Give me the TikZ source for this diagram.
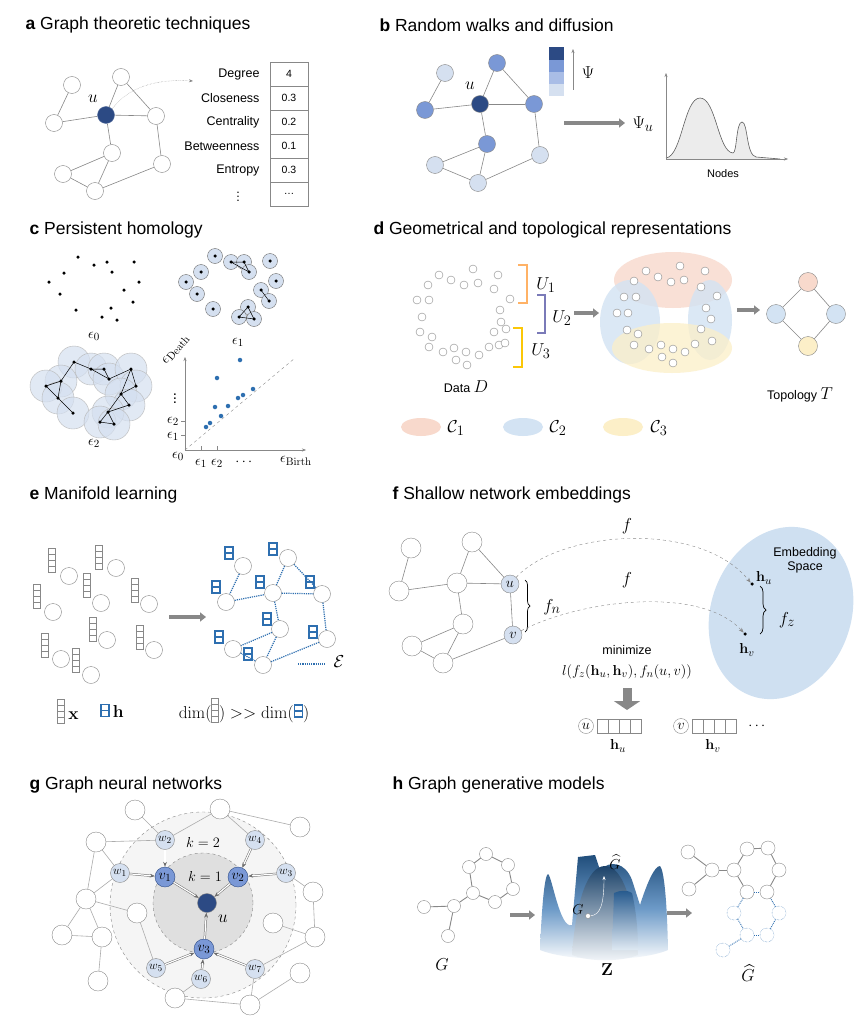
\documentclass[tikz,border=0pt]{standalone}
\usepackage[no-math]{fontspec}
\setmainfont{Liberation Sans}
\usepackage{amsmath,amssymb}
\usetikzlibrary{arrows.meta,decorations.pathreplacing,shapes.geometric,calc}
\definecolor{dkb}{HTML}{2C4A84}
\definecolor{mdb}{HTML}{7A98D6}
\definecolor{lgb}{HTML}{D5E0F0}
\definecolor{ltb}{HTML}{A9BDE6}
\definecolor{eb}{HTML}{2E6FB0}
\definecolor{gr}{HTML}{888888}
\definecolor{corg}{HTML}{F8D9CC}
\definecolor{cblu}{HTML}{D3E3F3}
\definecolor{cyel}{HTML}{FCEFC8}
\definecolor{embsp}{HTML}{CFE0F1}
\tikzset{
 every node/.append style={font=\fontsize{12.5}{14}\selectfont},
 ttl/.style={anchor=west,font=\fontsize{17.5}{20}\selectfont},
 ml/.style={font=\fontsize{19}{21}\selectfont},
 sl/.style={font=\fontsize{15}{17}\selectfont},
 wn/.style={circle,draw=gr,fill=white,minimum size=17pt,inner sep=0pt},
 sn/.style={circle,draw=gr,fill=white,minimum size=8pt,inner sep=0pt},
 edg/.style={draw=gr,line width=0.6pt},
 gar/.style={-{Triangle[length=6pt,width=9pt]},line width=4pt,draw=gr},
 cell/.style={draw=gr,minimum width=38pt,minimum height=24pt,inner sep=0pt,font=\fontsize{10.5}{12}\selectfont},
 tlab/.style={anchor=east,font=\fontsize{12.5}{14}\selectfont},
 dt/.style={circle,fill=black,minimum size=3.5pt,inner sep=0pt},
 bd/.style={circle,fill=eb,minimum size=4.5pt,inner sep=0pt},
}
\newcommand{\xstack}[2]{\foreach \k in {0,1,2,3}{\draw[gr,line width=0.6pt] (#1-3.5,#2+\k*6) rectangle (#1+3.5,#2+\k*6+6);}}
\newcommand{\hstack}[2]{\foreach \k in {0,1}{\draw[eb,line width=1.3pt] (#1-4,#2+\k*6) rectangle (#1+4,#2+\k*6+6);}}
\newcommand{\xmini}{\tikz[x=1pt,y=1pt,baseline=4pt]{\foreach \k in {0,1,2,3}{\draw[gr,line width=0.6pt] (0,\k*6) rectangle (7,\k*6+6);}}}
\newcommand{\hmini}{\tikz[x=1pt,y=1pt,baseline=-1pt]{\foreach \k in {0,1}{\draw[eb,line width=1.3pt] (0,\k*6) rectangle (8,\k*6+6);}}}
\begin{document}
\begin{tikzpicture}[x=1pt,y=-1pt]
\useasboundingbox[fill=white] (0,0) rectangle (867,1022);
% ---------- a
\node[ttl] (ta) at (22,25) {\textbf{a} Graph theoretic techniques};
\node[wn] (a1) at (72,85) {};
\node[wn] (a2) at (121,77) {};
\node[wn,fill=dkb,draw=dkb!80] (au) at (106,115) {};
\node[wn] (a3) at (54,123) {};
\node[wn] (a4) at (156,116) {};
\node[wn] (a5) at (112,153) {};
\node[wn] (a6) at (162,164) {};
\node[wn] (a7) at (63,174) {};
\node[wn] (a8) at (95,191) {};
\foreach \p/\q in {a1/a3,a3/au,au/a4,au/a2,a2/a4,au/a5,a5/a7,a5/a8,a7/a8,a4/a6,a6/a8}{\draw[edg] (\p)--(\q);}
\node[ml] (aul) at (93,99) {$u$};
\coordinate (atab) at (193,81);
\draw[gr,densely dotted,-{Stealth[length=4pt]}] (au.north east) .. controls (130,85) and (160,79) .. (atab);
\foreach \i/\l/\v in {0/Degree/4,1/Closeness/0.3,2/Centrality/0.2,3/Betweenness/0.1,4/Entropy/0.3}{
  \node[cell] (ac\i) at (289,74+24*\i) {\v};
  \node[tlab] (al\i) at (263,74+24*\i) {\l};}
\node[cell] (ac5) at (289,194) {\dots};
\node (avd) at (238,194) {$\vdots$};
% ---------- b
\node[ttl] (tb) at (376,25) {\textbf{b} Random walks and diffusion};
\node[wn,fill=lgb] (b1) at (445,73) {};
\node[wn,fill=mdb] (b2) at (497,63) {};
\node[wn,fill=dkb] (bu) at (480,104) {};
\node[wn,fill=mdb] (b3) at (425,110) {};
\node[wn,fill=mdb] (b4) at (534,104) {};
\node[wn,fill=mdb] (b5) at (487,144) {};
\node[wn,fill=lgb] (b6) at (435,165) {};
\node[wn,fill=lgb] (b7) at (478,183) {};
\node[wn,fill=lgb] (b8) at (540,155) {};
\foreach \p/\q in {b1/b3,b3/bu,bu/b4,bu/b2,b2/b4,bu/b5,b5/b6,b5/b7,b6/b7,b4/b8,b8/b7}{\draw[edg] (\p)--(\q);}
\node[ml] (bul) at (470,86) {$u$};
\fill[dkb] (549,47) rectangle (564,60);
\fill[mdb] (549,60) rectangle (564,72);
\fill[ltb] (549,72) rectangle (564,84);
\fill[lgb] (549,84) rectangle (564,96);
\coordinate (bp0) at (573,90); \coordinate (bp1) at (573,49);
\draw[gr,-{Stealth[length=4pt]}] (bp0)--(bp1);
\node[ml] (bpsi) at (588,73) {$\Psi$};
\coordinate (ba0) at (564,123); \coordinate (ba1) at (625,123);
\draw[gar] (ba0)--(ba1);
\node[ml] (bpsu) at (643,124) {$\Psi_u$};
\fill[gray!15] (666,158) .. controls (682,156) and (684,98) .. (700,98) .. controls (716,98) and (718,152) .. (733,153) .. controls (737,153) and (736,122) .. (742,122) .. controls (748,122) and (746,155) .. (756,157) -- (780,159) -- (666,159) -- cycle;
\draw[gr!70!black,line width=0.6pt] (666,158) .. controls (682,156) and (684,98) .. (700,98) .. controls (716,98) and (718,152) .. (733,153) .. controls (737,153) and (736,122) .. (742,122) .. controls (748,122) and (746,155) .. (756,157) -- (780,159);
\coordinate (bo) at (666,159); \coordinate (by) at (666,73); \coordinate (bx) at (788,159);
\draw[gr,-{Stealth[length=4pt]}] (bo)--(by);
\draw[gr,-{Stealth[length=4pt]}] (bo)--(bx);
\node[font=\fontsize{11}{13}\selectfont] (bnodes) at (723,174) {Nodes};
% ---------- c
\node[ttl] (tc) at (26,230) {\textbf{c} Persistent homology};
\foreach \x/\y in {78/257,94/265,107/262,134/262,64/273,112/272,49/282,139/282,60/294,124/290,133/302,76/310,111/308,102/317,117/320}{\node[dt] at (\x,\y) {};}
\node[sl] (ce0) at (94,336) {$\epsilon_0$};
\foreach \x/\y in {215/256,201/272,186/282,197/294,231/262,244/262,249/272,270/261,276/281,261/290,269/301,213/309,248/307,239/317,254/319}{\draw[gr!80!black,fill=lgb] (\x,\y) circle[radius=7.5pt]; \node[dt] at (\x,\y) {};}
\draw[line width=0.5pt] (231,262)--(244,262)--(249,272)--cycle (261,290)--(269,301) (248,307)--(239,317)--(254,319)--cycle;
\node[sl] (ce1) at (238,342) {$\epsilon_1$};
\foreach \x/\y in {74/362,61/381,46/386,58/398,73/413,91/369,104/369,109/379,131/369,136/386,121/394,129/405,108/412,100/422,114/424}{\draw[gr!60,fill=lgb,fill opacity=0.7] (\x,\y) circle[radius=16pt];}
\foreach \x/\y in {74/362,61/381,46/386,58/398,73/413,91/369,104/369,109/379,131/369,136/386,121/394,129/405,108/412,100/422,114/424}{\node[dt] at (\x,\y) {};}
\draw[line width=0.5pt] (46,386)--(61,381)--(74,362)--(91,369)--(104,369)--(109,379)--(131,369)--(136,386)--(121,394)--(129,405)--(108,412)--(100,422)--(114,424)--(108,412) (46,386)--(58,398)--(73,413) (61,381)--(58,398) (91,369)--(109,379) (121,394)--(108,412) (131,369)--(121,394);
\node[sl] (ce2) at (94,443) {$\epsilon_2$};
\coordinate (co) at (185,450); \coordinate (cy) at (185,357); \coordinate (cx) at (306,450);
\draw[gr,-{Stealth[length=4pt]}] (co)--(cy);
\draw[gr,-{Stealth[length=4pt]}] (co)--(cx);
\draw[gr,dashed] (co)--(295,358);
\draw[gr] (181,435)--(185,435) (181,421)--(185,421) (201,450)--(201,446) (217,450)--(217,446);
\node[sl,inner sep=0pt] (cl0) at (178,456) {$\epsilon_0$};
\node[sl,inner sep=0pt] (cl1) at (173,436) {$\epsilon_1$};
\node[sl,inner sep=0pt] (cl2) at (173,421) {$\epsilon_2$};
\node[sl,inner sep=0pt] (cvd) at (175,396) {$\vdots$};
\node[sl,rotate=50,inner sep=0pt] (cld) at (176,350) {$\epsilon_{\mathrm{Death}}$};
\node[sl,inner sep=0pt] (cb1) at (201,463) {$\epsilon_1$};
\node[sl,inner sep=0pt] (cb2) at (217,463) {$\epsilon_2$};
\node[sl,inner sep=0pt] (cbd) at (245,462) {$\cdots$};
\node[sl,inner sep=0pt] (cbb) at (296,461) {$\epsilon_{\mathrm{Birth}}$};
\foreach \x/\y in {240/360,217/378,215/407,228/406,238/398,243/395,253/389,221/416,210/423,206/427}{\node[bd] at (\x,\y) {};}
% ---------- d
\node[ttl] (td) at (370,230) {\textbf{d} Geometrical and topological representations};
\foreach \x/\y in {439/275,451/280,473/269,498/275,428/285,464/285,478/283,494/289,417/300,429/300,510/299,422/317,500/310,501/322,506/329,420/332,432/337,494/332,429/347,443/352,454/348,466/352,456/360,467/365,479/355,489/347,499/345,505/343}{\node[sn] at (\x,\y) {};}
\draw[orange!60,line width=1.2pt] (518,265)--(527,265)--(527,303)--(518,303);
\draw[blue!30!gray!80,line width=1.2pt] (537,295)--(545,295)--(545,333)--(537,333);
\draw[yellow!60!orange,line width=1.2pt] (513,328)--(522,328)--(522,367)--(513,367);
\node[ml] (du1) at (546,285) {$U_1$};
\node[ml] (du2) at (562,318) {$U_2$};
\node[ml] (du3) at (541,351) {$U_3$};
\node (ddat) at (466,387) {Data \fontsize{19}{21}\selectfont$D$};
\coordinate (da0) at (574,313); \coordinate (da1) at (599,313);
\draw[gar] (da0)--(da1);
\fill[corg,opacity=0.8] (673,280) ellipse[x radius=59pt,y radius=28pt];
\fill[cblu,opacity=0.8] (630,322) ellipse[x radius=30pt,y radius=42pt];
\fill[cblu,opacity=0.8] (710,320) ellipse[x radius=22pt,y radius=40pt];
\fill[cyel,opacity=0.75] (672,348) ellipse[x radius=60pt,y radius=25pt];
\foreach \x/\y in {634/281,646/271,658/277,671/282,680/266,684/280,705/271,701/287,717/296,624/297,636/297,706/308,711/319,617/313,628/313,701/329,627/330,638/334,712/341,695/344,634/345,649/349,661/345,673/349,685/352,662/357,673/363}{\node[sn] at (\x,\y) {};}
\coordinate (da2) at (737,310); \coordinate (da3) at (760,310);
\draw[gar] (da2)--(da3);
\node[wn,minimum size=19pt,fill=corg] (dt1) at (808,282) {};
\node[wn,minimum size=19pt,fill=cblu] (dt2) at (776,314) {};
\node[wn,minimum size=19pt,fill=cblu] (dt3) at (836,314) {};
\node[wn,minimum size=19pt,fill=cyel] (dt4) at (808,346) {};
\draw[edg] (dt1)--(dt2)--(dt4)--(dt3)--(dt1);
\node (dtop) at (800,395) {Topology \fontsize{19}{21}\selectfont$T$};
\fill[corg] (421,427) ellipse[x radius=20pt,y radius=9pt];
\fill[cblu] (523,427) ellipse[x radius=20pt,y radius=9pt];
\fill[cyel] (623,427) ellipse[x radius=20pt,y radius=9pt];
\node[ml] (dc1) at (456,428) {$\mathcal{C}_1$};
\node[ml] (dc2) at (558,428) {$\mathcal{C}_2$};
\node[ml] (dc3) at (659,428) {$\mathcal{C}_3$};
% ---------- e
\node[ttl] (te) at (26,495) {\textbf{e} Manifold learning};
\foreach \x/\y/\cx/\cy in {52/548/69/576,99/545/116/568,87/573/101/603,37/584/53/612,135/578/149/604,93/617/107/640,140/625/154/650,45/633/61/659,76/648/91/675}{\xstack{\x}{\y} \node[wn] at (\cx,\cy) {};}
\coordinate (ea0) at (169,617); \coordinate (ea1) at (206,617);
\draw[gar] (ea0)--(ea1);
\node[wn] (e1) at (243,566) {};
\node[wn] (e2) at (288,558) {};
\node[wn] (e3) at (226,602) {};
\node[wn] (e4) at (273,593) {};
\node[wn] (e5) at (322,594) {};
\node[wn] (e6) at (280,629) {};
\node[wn] (e7) at (327,639) {};
\node[wn] (e8) at (233,649) {};
\node[wn] (e9) at (263,665) {};
\foreach \p/\q in {e1/e3,e3/e4,e4/e5,e2/e4,e2/e5,e4/e6,e5/e7,e6/e8,e6/e9,e8/e9,e9/e7}{\draw[eb,densely dotted,line width=1.2pt] (\p)--(\q);}
\foreach \x/\y in {229/547,273/543,216/581,260/576,310/576,267/613,219/631,313/626,248/648}{\hstack{\x}{\y}}
\coordinate (el0) at (298,664); \coordinate (el1) at (325,664);
\draw[eb,densely dotted,line width=1.2pt] (el0)--(el1);
\node[ml] (eE) at (339,662) {$\mathcal{E}$};
\node[ml] (ex) at (68,711) {\xmini\,$\mathbf{x}$};
\node[ml] (eh) at (112,711) {\hmini\,$\mathbf{h}$};
\node[ml] (edim) at (244,710) {$\dim($\xmini$)>>\dim($\hmini$)$};
% ---------- f
\node[ttl] (tf) at (389,495) {\textbf{f} Shallow network embeddings};
\fill[embsp,rotate around={-20:(781,613)}] (781,613) ellipse[x radius=70pt,y radius=88pt];
\node[wn,minimum size=20pt] (f1) at (411,548) {};
\node[wn,minimum size=20pt] (f2) at (399,591) {};
\node[wn,minimum size=20pt] (f3) at (412,646) {};
\node[wn,minimum size=20pt] (f4) at (472,542) {};
\node[wn,minimum size=20pt] (f5) at (457,583) {};
\node[wn,minimum size=18pt,fill=lgb,sl] (fu) at (510,584) {$u$};
\node[wn,minimum size=20pt] (f6) at (463,624) {};
\node[wn,minimum size=18pt,fill=lgb,sl] (fv) at (513,635) {$v$};
\node[wn,minimum size=20pt] (f7) at (443,663) {};
\foreach \p/\q in {f1/f2,f2/f5,f5/f4,f4/fu,f5/fu,f5/f6,fu/fv,f6/f3,f3/f7,f6/f7,f7/fv}{\draw[edg] (\p)--(\q);}
\draw[decorate,decoration={brace,amplitude=5pt},line width=0.7pt] (525,580)--(525,632);
\node[ml] (ffn) at (552,607) {$f_n$};
\node[dt] (fhu) at (752,584) {};
\node[dt] (fhv) at (745,634) {};
\draw[gr,dashed,-{Stealth[length=5pt]}] (fu) .. controls (560,530) and (700,520) .. (fhu.north west);
\draw[gr,dashed,-{Stealth[length=5pt]}] (fv) .. controls (580,600) and (700,585) .. (fhv.north west);
\node[ml] (ff1) at (627,526) {$f$};
\node[ml] (ff2) at (627,580) {$f$};
\node[align=center] (femb) at (805,560) {Embedding\\Space};
\node[sl] (fhul) at (764,578) {$\mathbf{h}_u$};
\node[sl] (fhvl) at (747,650) {$\mathbf{h}_v$};
\draw[decorate,decoration={brace,amplitude=6pt},line width=0.7pt] (760,586)--(760,634);
\node[ml] (ffz) at (787,620) {$f_z$};
\node (fmin) at (627,650) {minimize};
\node[sl] (fform) at (627,672) {$l(f_z(\mathbf{h}_u,\mathbf{h}_v),f_n(u,v))$};
\coordinate (fd0) at (627,688); \coordinate (fd1) at (627,710);
\draw[gr,-{Triangle[length=9pt,width=26pt]},line width=9pt] (fd0)--(fd1);
\node[wn,minimum size=15pt,sl] (fbu) at (586,726) {$u$};
\node[wn,minimum size=15pt,sl] (fbv) at (681,726) {$v$};
\foreach \k in {0,1,2,3}{\draw[gr] (597+\k*11,719) rectangle (608+\k*11,733); \draw[gr] (692+\k*11,719) rectangle (703+\k*11,733);}
\node[sl] (fdots) at (758,726) {$\cdots$};
\node[sl] (fbhu) at (618,746) {$\mathbf{h}_u$};
\node[sl] (fbhv) at (713,746) {$\mathbf{h}_v$};
% ---------- g
\node[ttl] (tg) at (26,785) {\textbf{g} Graph neural networks};
\draw[gr,dashed,fill=gray!8] (203,905) circle[radius=93pt];
\draw[gr,dashed,fill=gray!25] (203,903) circle[radius=50pt];
\node[wn,minimum size=20pt] (o1) at (135,810) {};
\node[wn,minimum size=20pt] (o2) at (220,809) {};
\node[wn,minimum size=20pt] (o3) at (300,827) {};
\node[wn,minimum size=20pt] (o4) at (96,842) {};
\node[wn,minimum size=20pt] (o5) at (86,899) {};
\node[wn,minimum size=20pt] (o6) at (137,913) {};
\node[wn,minimum size=20pt] (o7) at (62,935) {};
\node[wn,minimum size=20pt] (o8) at (102,937) {};
\node[wn,minimum size=20pt] (o9) at (98,981) {};
\node[wn,minimum size=20pt] (o10) at (313,892) {};
\node[wn,minimum size=20pt] (o11) at (273,923) {};
\node[wn,minimum size=20pt] (o12) at (315,937) {};
\node[wn,minimum size=20pt] (o13) at (300,973) {};
\node[wn,minimum size=20pt] (o14) at (175,998) {};
\node[wn,minimum size=20pt] (o15) at (250,1005) {};
\node[wn,minimum size=19pt,fill=dkb] (gu) at (207,903) {};
\node[ml] (gul) at (223,919) {$u$};
\node[wn,minimum size=20pt,fill=mdb,draw=dkb,sl] (v1) at (165,877) {$v_1$};
\node[wn,minimum size=20pt,fill=mdb,draw=dkb,sl] (v2) at (238,877) {$v_2$};
\node[wn,minimum size=20pt,fill=mdb,draw=dkb,sl] (v3) at (204,949) {$v_3$};
\node[wn,minimum size=19pt,fill=lgb,inner sep=0pt] (w1) at (120,873) {$w_1$};
\node[wn,minimum size=19pt,fill=lgb,inner sep=0pt] (w2) at (165,840) {$w_2$};
\node[wn,minimum size=19pt,fill=lgb,inner sep=0pt] (w4) at (255,840) {$w_4$};
\node[wn,minimum size=19pt,fill=lgb,inner sep=0pt] (w3) at (286,873) {$w_3$};
\node[wn,minimum size=19pt,fill=lgb,inner sep=0pt] (w5) at (156,968) {$w_5$};
\node[wn,minimum size=19pt,fill=lgb,inner sep=0pt] (w6) at (201,979) {$w_6$};
\node[wn,minimum size=19pt,fill=lgb,inner sep=0pt] (w7) at (255,969) {$w_7$};
\foreach \p/\q in {o1/w2,w2/o2,o2/o3,o2/w4,o4/w2,o4/w1,o4/o5,w1/o5,o5/o6,o5/o7,o5/o8,o7/o8,o8/o9,o6/w5,w3/o10,o10/o12,o11/o12,o12/w7,o13/o15,w7/o15,w6/o14,o14/o15}{\draw[edg,draw=gr!70] (\p)--(\q);}
\foreach \p/\q in {w1/v1,w2/v1,w4/v2,w3/v2,v1/gu,v2/gu,v3/gu,w5/v3,w6/v3,w7/v3}{\draw[gr!80!black,double=white,double distance=1.2pt,line width=0.5pt,-{Stealth[length=5pt]}] (\p)--(\q);}
\node[sl] (gk2) at (203,842) {$k=2$};
\node[sl] (gk1) at (205,876) {$k=1$};
% ---------- h
\node[ttl] (th) at (389,785) {\textbf{h} Graph generative models};
\foreach \n/\x/\y in {g1/486/854,g2/508/865,g3/469/867,g4/513/889,g5/473/893,g6/495/902,g7/454/906,g8/424/907,g9/448/936}{\node[wn,minimum size=13pt] (\n) at (\x,\y) {};}
\foreach \p/\q in {g1/g2,g2/g4,g4/g6,g6/g5,g5/g3,g3/g1,g5/g7,g7/g8,g7/g9}{\draw[edg,line width=0.9pt] (\p)--(\q);}
\node[ml] (hG) at (442,965) {$G$};
\coordinate (ha0) at (510,915); \coordinate (ha1) at (535,915);
\draw[gar] (ha0)--(ha1);
\shade[top color=eb!70!black,bottom color=white,middle color=eb!70] (540,950) .. controls (542,900) and (545,875) .. (548,874) .. controls (552,876) and (560,930) .. (572,925) -- (578,857) -- (595,855) -- (600,870) .. controls (610,860) and (625,862) .. (632,880) -- (640,905) .. controls (648,880) and (655,866) .. (660,866) .. controls (664,870) and (667,900) .. (668,950) .. controls (640,962) and (570,962) .. (540,950) -- cycle;
\shade[top color=eb!60!black,bottom color=eb!5] (572,955) .. controls (576,900) and (588,866) .. (605,866) .. controls (622,866) and (634,900) .. (638,955) .. controls (620,962) and (590,962) .. (572,955) -- cycle;
\shade[top color=eb!80!black,bottom color=eb!15] (614,893) .. controls (620,890) and (628,890) .. (632,893) .. controls (636,910) and (638,930) .. (638,950) -- (612,950) -- cycle;
\node[circle,fill=white,draw=gr,minimum size=5pt,inner sep=0pt] (hgd) at (588,916) {};
\coordinate (hgt) at (604,876);
\draw[white,-{Stealth[length=4pt]}] (hgd) .. controls (600,915) and (604,905) .. (hgt);
\node[sl] (hGl) at (578,910) {$G$};
\node[sl] (hGh) at (615,862) {$\widehat{G}$};
\node[ml] (hZ) at (607,970) {$\mathbf{Z}$};
\coordinate (ha2) at (667,913); \coordinate (ha3) at (692,913);
\draw[gar] (ha2)--(ha3);
\foreach \n/\x/\y in {r1/688/852,r2/712/870,r3/689/889,r4/734/870,r5/747/849,r6/768/848,r7/779/870,r8/767/892,r9/747/892}{\node[wn,minimum size=14pt] (\n) at (\x,\y) {};}
\foreach \n/\x/\y in {s1/734/913,s2/779/913,s3/747/935,s4/767/935,s5/723/950}{\node[circle,draw=eb,densely dotted,minimum size=14pt,inner sep=0pt] (\n) at (\x,\y) {};}
\foreach \p/\q in {r1/r2,r3/r2,r2/r4,r4/r5,r5/r6,r6/r7,r7/r8,r9/r4}{\draw[edg,line width=0.9pt] (\p)--(\q);}
\foreach \p/\q in {r9/s1,s1/s3,s3/s4,s4/s2,s2/r8,s3/s5,r9/r8}{\draw[eb,densely dotted,line width=0.9pt] (\p)--(\q);}
\node[ml] (hGh2) at (748,973) {$\widehat{G}$};
\end{tikzpicture}
\end{document}
